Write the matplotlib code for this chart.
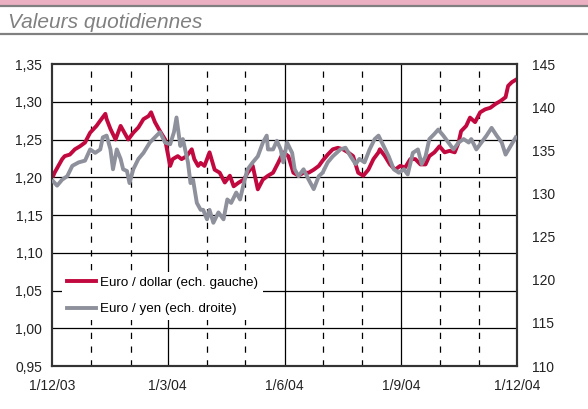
import matplotlib
matplotlib.use('Agg')
import matplotlib.pyplot as plt
from matplotlib.patches import Rectangle
from matplotlib.lines import Line2D
import pandas as pd

# ---------------- data ----------------
start_date = '2003-12-01'

usd_days = [1, 2, 8, 10, 14, 18, 22, 26, 30, 35, 38, 42, 43, 46, 50, 54, 57, 60,
            64, 68, 72, 76, 78, 81, 85, 89, 93, 95, 99, 102, 106, 110, 112, 115,
            117, 120, 124, 128, 132, 136, 140, 143, 147, 151, 154, 158, 162, 166,
            170, 174, 178, 182, 186, 190, 194, 198, 202, 206, 210, 213, 217, 221,
            225, 229, 233, 237, 241, 245, 249, 253, 257, 258, 262, 266, 270, 274,
            278, 282, 286, 290, 294, 297, 301, 305, 309, 313, 317, 320, 322, 326,
            329, 333, 337, 341, 345, 349, 353, 357, 359, 362, 365]
usd_vals = [1.202, 1.206, 1.224, 1.228, 1.230, 1.237, 1.241, 1.246, 1.259, 1.268,
            1.275, 1.284, 1.277, 1.264, 1.250, 1.268, 1.259, 1.250, 1.259, 1.266,
            1.277, 1.281, 1.286, 1.273, 1.261, 1.250, 1.215, 1.224, 1.228, 1.224,
            1.228, 1.237, 1.224, 1.215, 1.219, 1.215, 1.233, 1.210, 1.206, 1.193,
            1.202, 1.188, 1.193, 1.197, 1.206, 1.215, 1.184, 1.197, 1.202, 1.206,
            1.219, 1.233, 1.228, 1.206, 1.202, 1.206, 1.206, 1.210, 1.215, 1.222,
            1.230, 1.237, 1.239, 1.237, 1.233, 1.228, 1.206, 1.202, 1.210, 1.224,
            1.233, 1.237, 1.228, 1.217, 1.210, 1.215, 1.213, 1.224, 1.224, 1.217,
            1.217, 1.228, 1.233, 1.241, 1.233, 1.235, 1.233, 1.246, 1.261, 1.268,
            1.279, 1.273, 1.286, 1.290, 1.292, 1.297, 1.301, 1.306, 1.321, 1.326,
            1.329]

jpy_days = [1, 4, 8, 12, 16, 21, 26, 30, 34, 38, 40, 43, 46, 48, 51, 54, 56, 59,
            61, 64, 68, 72, 77, 81, 85, 89, 93, 96, 98, 101, 103, 107, 109, 111,
            114, 117, 119, 122, 124, 127, 131, 135, 138, 141, 145, 148, 151, 154,
            158, 162, 166, 169, 170, 174, 177, 180, 182, 185, 189, 191, 194, 198,
            202, 206, 210, 213, 217, 221, 227, 231, 235, 239, 242, 246, 250, 254,
            257, 261, 265, 269, 273, 277, 280, 284, 288, 291, 294, 297, 301, 304,
            308, 312, 316, 320, 324, 328, 330, 334, 338, 342, 346, 350, 354, 357,
            361, 365]
jpy_vals = [131.4, 130.9, 131.6, 132.0, 133.2, 133.6, 133.8, 135.1, 134.7, 135.1,
            136.5, 136.7, 135.1, 132.8, 135.1, 134.0, 132.8, 132.6, 131.2, 132.8,
            134.0, 134.7, 135.9, 136.5, 137.1, 135.9, 135.7, 137.1, 138.8, 135.5,
            136.3, 133.6, 131.2, 131.6, 128.9, 128.1, 128.1, 127.0, 128.1, 126.6,
            127.8, 127.0, 129.3, 128.9, 130.1, 129.3, 131.2, 132.8, 133.6, 134.3,
            135.9, 136.7, 135.1, 135.1, 136.1, 135.1, 133.6, 135.9, 134.7, 132.8,
            132.0, 132.8, 131.6, 130.5, 132.0, 132.4, 133.6, 134.3, 135.1, 135.3,
            134.3, 133.4, 134.0, 133.6, 135.1, 136.3, 136.7, 135.5, 134.3, 132.8,
            132.4, 132.8, 132.2, 134.7, 135.1, 133.4, 134.3, 136.3, 136.9, 137.4,
            136.7, 135.9, 135.1, 135.9, 136.3, 135.9, 136.3, 135.1, 135.9, 136.7,
            137.6, 136.7, 135.9, 134.5, 135.5, 136.5]

left_ticks = [0.95, 1.00, 1.05, 1.10, 1.15, 1.20, 1.25, 1.30, 1.35]
left_labels = ['0,95', '1,00', '1,05', '1,10', '1,15', '1,20', '1,25', '1,30', '1,35']
right_ticks = [110, 115, 120, 125, 130, 135, 140, 145]
x_tick_dates = ['2003-12-01', '2004-03-01', '2004-06-01', '2004-09-01', '2004-12-01']
x_tick_labels = ['1/12/03', '1/3/04', '1/6/04', '1/9/04', '1/12/04']
solid_month_dates = ['2004-03-01', '2004-06-01', '2004-09-01']
dashed_month_dates = ['2004-01-01', '2004-02-01', '2004-04-01', '2004-05-01',
                      '2004-07-01', '2004-08-01', '2004-10-01', '2004-11-01']
series_names = ['Euro / dollar (ech. gauche)', 'Euro / yen (ech. droite)']
title = 'Valeurs quotidiennes'

# ---------------- styling ----------------
RED = '#C1093F'
GREY = '#8E919B'
FONT = ['Liberation Sans Narrow', 'Liberation Sans', 'DejaVu Sans']
plt.rcParams['font.family'] = FONT
plt.rcParams['font.size'] = 10

W, H = 588, 409
fig = plt.figure(figsize=(W / 100, H / 100), dpi=100)

# header band
fig.patches.append(Rectangle((0, 1 - 5 / H), 1, 5 / H, transform=fig.transFigure,
                             facecolor='#EBB1C3', edgecolor='none'))
fig.add_artist(Line2D([0, 1], [1 - 6 / H, 1 - 6 / H], transform=fig.transFigure,
                      color='#808080', lw=1.6))
fig.add_artist(Line2D([0, 1], [1 - 34 / H, 1 - 34 / H], transform=fig.transFigure,
                      color='#808080', lw=1.6))
fig.text(8 / W, 1 - 28 / H, title, family=['Liberation Sans', 'DejaVu Sans'],
         style='italic', color='#808080', fontsize=15, va='baseline', ha='left')

left, right, top, bottom = 52, 517, 64, 366
ax = fig.add_axes([left / W, 1 - bottom / H, (right - left) / W, (bottom - top) / H])
ax2 = ax.twinx()

start = pd.Timestamp(start_date)
usd_x = start + pd.to_timedelta(usd_days, unit='D')
jpy_x = start + pd.to_timedelta(jpy_days, unit='D')

ax.plot(usd_x, usd_vals, color=RED, lw=2.8, solid_joinstyle='round', zorder=3)
ax2.plot(jpy_x, jpy_vals, color=GREY, lw=2.8, solid_joinstyle='round', zorder=3)

ax.set_xlim(pd.Timestamp(x_tick_dates[0]), pd.Timestamp(x_tick_dates[-1]))
ax.set_ylim(left_ticks[0], left_ticks[-1])
ax2.set_ylim(right_ticks[0], right_ticks[-1])

# gridlines
for v in left_ticks[1:-1]:
    ax.axhline(v, color='black', lw=0.9, zorder=1)
for d in solid_month_dates:
    ax.axvline(pd.Timestamp(d), color='black', lw=0.9, zorder=1)
for d in dashed_month_dates:
    ax.axvline(pd.Timestamp(d), color='black', lw=0.9, zorder=1,
               linestyle=(0, (5.0, 6.0)))

ax.set_yticks(left_ticks)
ax.set_yticklabels(left_labels)
ax2.set_yticks(right_ticks)
ax.set_xticks([pd.Timestamp(d) for d in x_tick_dates])
ax.set_xticklabels(x_tick_labels)
ax.tick_params(axis='y', length=0, pad=7, labelsize=10, colors='#222222')
ax.tick_params(axis='x', length=0, pad=9, labelsize=10, colors='#222222')
ax2.tick_params(axis='y', length=0, pad=11, labelsize=10, colors='#222222')

for a in (ax, ax2):
    for s in a.spines.values():
        s.set_color('#333333')
        s.set_linewidth(1.5)

handles = [Line2D([], [], color=RED, lw=2.8), Line2D([], [], color=GREY, lw=2.8)]
leg = ax2.legend(handles, series_names, loc='upper left',
                 bbox_to_anchor=((62 - left) / (right - left), 1 - (272 - top) / (bottom - top)),
                 frameon=True, fancybox=False, framealpha=1, edgecolor='white',
                 facecolor='white', fontsize=9.6, handlelength=2.2, handletextpad=0.3,
                 labelspacing=1.05, borderpad=0.35, borderaxespad=0)
leg.get_frame().set_linewidth(0)

fig.savefig('out.png', dpi=100)
